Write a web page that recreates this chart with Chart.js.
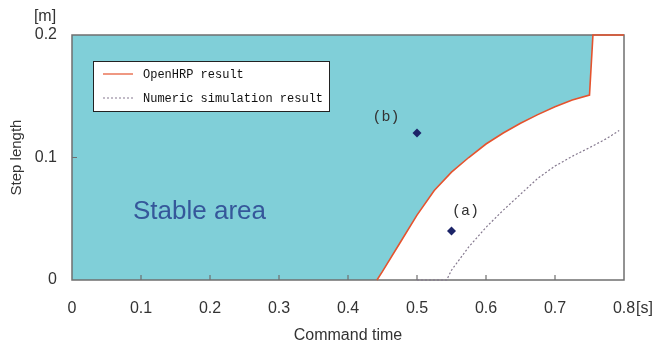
<!DOCTYPE html>
<html>
<head>
<meta charset="utf-8">
<script src="https://cdn.jsdelivr.net/npm/chart.js@4.4.1/dist/chart.umd.min.js"></script>
<style>
  html, body { margin: 0; padding: 0; background: #fff; }
</style>
</head>
<body>
<canvas id="chart" width="660" height="347"></canvas>
<script>
// tick values
const xTicks = [0, 0.1, 0.2, 0.3, 0.4, 0.5, 0.6, 0.7, 0.8];
const yTicks = [0, 0.1, 0.2];

// OpenHRP result (stability border)
const openhrpX = [0.442, 0.45, 0.475, 0.5, 0.525, 0.55, 0.575, 0.6, 0.625, 0.65, 0.675, 0.7, 0.725, 0.75, 0.755, 0.8];
const openhrpY = [0, 0.007, 0.03, 0.053, 0.073, 0.088, 0.1, 0.111, 0.12, 0.128, 0.135, 0.1415, 0.147, 0.151, 0.2, 0.2];

// numeric simulation result
const numericX = [0.5, 0.543, 0.55, 0.575, 0.6, 0.625, 0.65, 0.675, 0.7, 0.725, 0.75, 0.775, 0.793];
const numericY = [0, 0, 0.008, 0.027, 0.043, 0.057, 0.07, 0.083, 0.093, 0.101, 0.108, 0.1155, 0.122];

// test points
const testX = [0.55, 0.5];
const testY = [0.04, 0.12];
const testLabels = ['(a)', '(b)'];

// stable area = everything above the OpenHRP border
const stableX = [0].concat(openhrpX);
const stableY = [0].concat(openhrpY);

const toXY = (xs, ys) => xs.map((x, i) => ({ x: x, y: ys[i] }));

const CYAN = '#80cfd8';
const RED = '#e5532e';
const NAVY = '#1c2468';
const FRAME = '#6f6f6f';
const TEXT = '#333333';
const FONT = '"Liberation Sans", Arial, sans-serif';
const MONO = '"Liberation Mono", "DejaVu Sans Mono", monospace';

const decor = {
    id: 'decor',
    beforeDatasetsDraw(chart) {
        const ctx = chart.ctx;
        const a = chart.chartArea;
        const xs = chart.scales.x, ys = chart.scales.y;
        ctx.save();
        // frame
        ctx.strokeStyle = FRAME;
        ctx.lineWidth = 1.5;
        ctx.strokeRect(a.left, a.top, a.right - a.left, a.bottom - a.top);
        // inward tick marks
        ctx.lineWidth = 1.2;
        ctx.beginPath();
        xTicks.slice(1, -1).forEach(v => {
            const px = xs.getPixelForValue(v);
            ctx.moveTo(px, a.bottom);
            ctx.lineTo(px, a.bottom - 5);
        });
        yTicks.slice(1, -1).forEach(v => {
            const py = ys.getPixelForValue(v);
            ctx.moveTo(a.left, py);
            ctx.lineTo(a.left + 5, py);
        });
        ctx.stroke();
        ctx.restore();
    },
    afterDraw(chart) {
        const ctx = chart.ctx;
        const a = chart.chartArea;
        const xs = chart.scales.x, ys = chart.scales.y;
        ctx.save();

        // legend box
        const lx = a.left + 21, ly = a.top + 26, lw = 236, lh = 50;
        ctx.fillStyle = '#fff';
        ctx.fillRect(lx, ly, lw, lh);
        ctx.strokeStyle = '#222';
        ctx.lineWidth = 1;
        ctx.strokeRect(lx + 0.5, ly + 0.5, lw, lh);
        const ds = chart.data.datasets;
        [ds[1], ds[2]].forEach((d, i) => {
            const y = ly + 13 + i * 24;
            ctx.beginPath();
            ctx.strokeStyle = d.borderColor;
            ctx.lineWidth = 1.2;
            ctx.setLineDash(d.borderDash || []);
            ctx.moveTo(lx + 10, y);
            ctx.lineTo(lx + 40, y);
            ctx.stroke();
            ctx.setLineDash([]);
            ctx.fillStyle = '#111';
            ctx.font = '12px ' + MONO;
            ctx.textBaseline = 'middle';
            ctx.textAlign = 'left';
            ctx.fillText(d.label, lx + 50, y + 1);
        });

        // point labels
        ctx.font = '15px ' + MONO;
        ctx.fillStyle = TEXT;
        ctx.textAlign = 'center';
        ctx.textBaseline = 'middle';
        const offs = [[14, -20], [-31, -16]];
        testLabels.forEach((t, i) => {
            const px = xs.getPixelForValue(testX[i]);
            const py = ys.getPixelForValue(testY[i]);
            ctx.fillText(t, px + offs[i][0], py + offs[i][1]);
        });

        // area label
        ctx.font = '26px ' + FONT;
        ctx.fillStyle = '#35579a';
        ctx.textAlign = 'left';
        ctx.textBaseline = 'alphabetic';
        ctx.fillText('Stable area', a.left + 61, 219);

        // units
        ctx.font = '16px ' + FONT;
        ctx.fillStyle = TEXT;
        ctx.textAlign = 'center';
        ctx.textBaseline = 'middle';
        ctx.fillText('[m]', 45, 17);
        ctx.textAlign = 'left';
        ctx.fillText('[s]', xs.getPixelForValue(0.8) + 12, 309);
        ctx.restore();
    }
};

new Chart(document.getElementById('chart'), {
    type: 'line',
    data: {
        datasets: [
            {
                label: 'Stable area',
                data: toXY(stableX, stableY),
                borderWidth: 0,
                borderColor: 'rgba(0,0,0,0)',
                backgroundColor: CYAN,
                pointRadius: 0,
                fill: 'end'
            },
            {
                label: 'OpenHRP result',
                data: toXY(openhrpX, openhrpY),
                borderColor: RED,
                borderWidth: 1.6,
                pointRadius: 0,
                fill: false,
                clip: 4
            },
            {
                label: 'Numeric simulation result',
                data: toXY(numericX, numericY),
                borderColor: '#85798f',
                borderWidth: 1.2,
                borderDash: [2, 2],
                pointRadius: 0,
                fill: false,
                clip: 4
            },
            {
                label: 'Tests',
                data: toXY(testX, testY),
                showLine: false,
                pointStyle: 'rectRot',
                pointRadius: 4.5,
                backgroundColor: NAVY,
                borderColor: NAVY,
                borderWidth: 0
            }
        ]
    },
    options: {
        responsive: false,
        animation: false,
        layout: { padding: { top: 35, right: 36, left: 0, bottom: 0 } },
        plugins: {
            legend: { display: false },
            tooltip: { enabled: false },
            filler: { drawTime: 'beforeDraw' }
        },
        scales: {
            x: {
                type: 'linear',
                min: 0,
                max: 0.8,
                afterBuildTicks: s => { s.ticks = xTicks.map(v => ({ value: v })); },
                afterFit: s => { s.height = 67; },
                grid: { drawOnChartArea: false, drawTicks: false },
                border: { display: false },
                ticks: {
                    padding: 19,
                    color: TEXT,
                    font: { family: FONT, size: 16 },
                    maxRotation: 0,
                    callback: v => String(v)
                },
                title: {
                    display: true,
                    text: 'Command time',
                    color: TEXT,
                    font: { family: FONT, size: 16 },
                    padding: { top: 0, bottom: 2 }
                }
            },
            y: {
                min: 0,
                max: 0.2,
                afterBuildTicks: s => { s.ticks = yTicks.map(v => ({ value: v })); },
                afterFit: s => { s.width = 72; },
                grid: { drawOnChartArea: false, drawTicks: false },
                border: { display: false },
                ticks: {
                    padding: 15,
                    color: TEXT,
                    font: { family: FONT, size: 16 },
                    callback: v => String(v)
                },
                title: {
                    display: true,
                    text: 'Step length',
                    color: TEXT,
                    font: { family: FONT, size: 15 },
                    padding: { top: 8, bottom: 0 }
                }
            }
        }
    },
    plugins: [decor]
});
</script>
</body>
</html>
